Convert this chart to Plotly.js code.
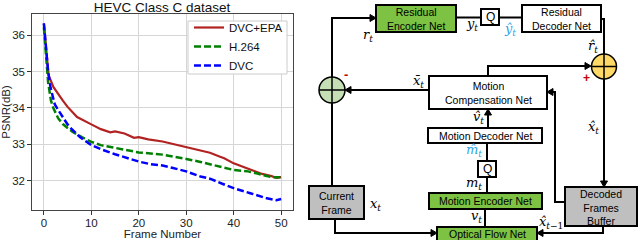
<!DOCTYPE html>
<html>
<head>
<meta charset="utf-8">
<script src="https://cdn.plot.ly/plotly-3.0.1.min.js"></script>
<style>html,body{margin:0;padding:0;background:#fff;}#chart{width:640px;height:240px;}</style>
</head>
<body>
<div id="chart"></div>
<script>
// ---- chart data ----
const seriesNames = ['DVC+EPA', 'H.264', 'DVC'];
const xTickVals = [0, 10, 20, 30, 40, 50];
const yTickVals = [32, 33, 34, 35, 36];

const framesEPA = [0, 0.5, 1, 2, 3, 4, 5, 7, 10, 12, 14, 15, 17, 19, 20, 22, 25, 27, 30, 33, 35, 37, 38, 40, 42, 44, 46, 48, 49, 50];
const psnrEPA   = [36.32, 35.5, 34.9, 34.58, 34.38, 34.2, 34.03, 33.75, 33.55, 33.42, 33.33, 33.36, 33.3, 33.18, 33.2, 33.14, 33.08, 33.02, 32.93, 32.83, 32.77, 32.67, 32.62, 32.48, 32.38, 32.28, 32.19, 32.13, 32.08, 32.1];

const framesH264 = [0, 0.4, 0.9, 1.5, 2, 3, 4, 5, 6, 8, 10, 12, 15, 17, 20, 25, 28, 30, 33, 35, 38, 40, 43, 45, 47, 48, 50];
const psnrH264   = [36.22, 35.6, 34.7, 34.2, 34.0, 33.72, 33.56, 33.45, 33.35, 33.2, 33.07, 32.98, 32.9, 32.84, 32.78, 32.72, 32.66, 32.6, 32.52, 32.45, 32.36, 32.3, 32.26, 32.2, 32.13, 32.1, 32.1];

const framesDVC = [0, 0.5, 0.9, 1.4, 2.3, 3, 3.7, 5, 5.5, 7.6, 10, 12, 15, 18, 20, 22.4, 25, 27, 30, 33, 35, 37.6, 40, 43.5, 47, 49, 50];
const psnrDVC   = [36.32, 35.6, 35.0, 34.56, 34.1, 33.95, 33.8, 33.55, 33.47, 33.2, 32.98, 32.87, 32.73, 32.6, 32.53, 32.46, 32.42, 32.36, 32.26, 32.12, 32.06, 31.92, 31.8, 31.66, 31.52, 31.47, 31.5];

const FONT = 'Liberation Sans, Arial, sans-serif';
const MATH = 'DejaVu Serif, serif';

const traces = [
  {x: framesEPA, y: psnrEPA, name: seriesNames[0], mode: 'lines', line: {color: '#b22222', width: 2.2}},
  {x: framesH264, y: psnrH264, name: seriesNames[1], mode: 'lines', line: {color: '#008000', width: 2.5, dash: '7px,3px'}},
  {x: framesDVC, y: psnrDVC, name: seriesNames[2], mode: 'lines', line: {color: '#0000ff', width: 2.5, dash: '7px,3px'}}
];

// ---- block diagram, laid out in page pixels and converted to paper coordinates ----
const W = 640, H = 240;
const px = x => x / W, py = y => 1 - y / H;
const S = [], A = [];
const P = p => p.map(q => px(q[0]).toFixed(5) + ',' + py(q[1]).toFixed(5)).join(' L');
function wire(pts) {
  S.push({type: 'path', xref: 'paper', yref: 'paper', path: 'M' + P(pts), line: {color: '#000', width: 2}, layer: 'above'});
}
function head(x, y, dir) {
  const L = 6, Wd = 3.5; let pts;
  if (dir === 'r') pts = [[x, y], [x - L, y - Wd], [x - L, y + Wd]];
  if (dir === 'l') pts = [[x, y], [x + L, y - Wd], [x + L, y + Wd]];
  if (dir === 'd') pts = [[x, y], [x - Wd, y - L], [x + Wd, y - L]];
  if (dir === 'u') pts = [[x, y], [x - Wd, y + L], [x + Wd, y + L]];
  S.push({type: 'path', xref: 'paper', yref: 'paper', path: 'M' + P(pts) + ' Z', fillcolor: '#000', line: {color: '#000', width: 1}, layer: 'above'});
}
function box(x0, y0, x1, y1, fill, lc) {
  S.push({type: 'rect', xref: 'paper', yref: 'paper', x0: px(x0), y0: py(y1), x1: px(x1), y1: py(y0), fillcolor: fill, line: {color: lc || '#000', width: lc ? 1 : 2}, layer: 'above'});
}
function circ(cx, cy, r, fill) {
  S.push({type: 'circle', xref: 'paper', yref: 'paper', x0: px(cx - r), y0: py(cy + r), x1: px(cx + r), y1: py(cy - r), fillcolor: fill, line: {color: '#000', width: 1.5}, layer: 'above'});
  S.push({type: 'path', xref: 'paper', yref: 'paper', path: 'M' + P([[cx - r, cy], [cx + r, cy]]) + ' M' + P([[cx, cy - r], [cx, cy + r]]), line: {color: '#000', width: 1.5}, layer: 'above'});
}
function txt(x, y, t, size, opts) {
  A.push(Object.assign({xref: 'paper', yref: 'paper', x: px(x), y: py(y), text: t, showarrow: false, xanchor: 'center', yanchor: 'middle',
    font: {family: FONT, size: size || 10.5, color: '#000'}}, opts || {}));
}
function math(x, y, t, color) {
  txt(x, y, t, 13, {font: {family: MATH, size: 13, color: color || '#000'}});
}

// legend frame (the legend entries themselves are Plotly's own legend)
box(188, 21, 287, 74, '#ffffff', '#cccccc');

// wires
wire([[332, 77], [332, 18], [370, 18]]);
wire([[456, 17.5], [481, 17.5]]);
wire([[499, 17.5], [522, 17.5]]);
wire([[601, 19], [604, 19], [604, 54]]);
wire([[488, 76], [488, 66], [585, 66]]);
wire([[604, 79], [604, 181]]);
wire([[429, 90], [351, 90]]);
wire([[332, 103], [332, 186]]);
wire([[335, 219], [335, 233], [431, 233]]);
wire([[603, 226], [603, 233], [543, 233]]);
wire([[565, 202], [555, 202], [555, 92], [553, 92]]);
wire([[488, 128], [488, 115]]);
wire([[487, 143], [487, 161]]);
wire([[487, 177], [487, 193]]);
wire([[485, 209], [485, 227]]);

// circles
circ(332, 90, 13, '#c5e0b4');
circ(604, 66.5, 12.5, '#ffd966');

// boxes
box(376, 5, 456, 32, '#7dc242');
box(481, 9, 499, 25, '#ffffff');
box(522, 5, 601, 32, '#ffffff');
box(429, 76, 547, 109, '#ffffff');
box(428, 128, 542, 143, '#ffffff');
box(478, 161, 496, 177, '#ffffff');
box(429, 193, 542, 209, '#7dc242');
box(437, 227, 537, 242, '#7dc242');
box(309, 186, 364, 219, '#bfbfbf');
box(565, 187, 637, 226, '#bfbfbf');

// arrow heads
head(376, 18, 'r');
head(591, 66, 'r');
head(604, 187, 'd');
head(345, 90, 'l');
head(437, 233, 'r');
head(537, 233, 'l');
head(547, 92, 'l');
head(488, 109, 'u');

// box texts
txt(416, 18.5, 'Residual<br>Encoder Net');
txt(490, 17, 'Q', 12);
txt(561.5, 18.5, 'Residual<br>Decoder Net');
txt(488, 92.5, 'Motion<br>Compensation Net');
txt(485, 135.5, 'Motion Decoder Net');
txt(487, 169, 'Q', 12);
txt(485.5, 201, 'Motion Encoder Net');
txt(487, 234, 'Optical Flow Net');
txt(336.5, 202.5, 'Current<br>Frame');
txt(601, 207, 'Decoded<br>Frames<br>Buffer');

// math labels
math(368, 35, '<i>r</i><sub><i>t</i></sub>');
math(472, 25, '<i>y</i><sub><i>t</i></sub>');
math(510, 29, '<i>ŷ</i><sub><i>t</i></sub>', '#2ea6e6');
math(593, 47, '<i>r̂</i><sub><i>t</i></sub>');
math(418, 81, '<i>x̄</i><sub><i>t</i></sub>');
math(478, 117, '<i>v̂</i><sub><i>t</i></sub>');
math(474, 150, '<i>m̂</i><sub><i>t</i></sub>', '#2ea6e6');
math(474, 183, '<i>m</i><sub><i>t</i></sub>');
math(476, 216, '<i>v</i><sub><i>t</i></sub>');
math(375, 204, '<i>x</i><sub><i>t</i></sub>');
math(593, 127, '<i>x̂</i><sub><i>t</i></sub>');
math(551, 222, '<i>x̂</i><sub><i>t</i>−1</sub>');
txt(586, 78, '<b>+</b>', 12, {font: {family: FONT, size: 12, color: '#c00000'}});
txt(346, 74.5, '<b>-</b>', 13, {font: {family: FONT, size: 13, color: '#c00000'}});

const axisCommon = {
  showgrid: true, gridcolor: '#d6d6d6', gridwidth: 1, zeroline: false,
  showline: true, mirror: true, linecolor: '#444', linewidth: 1.2,
  ticks: 'outside', ticklen: 3.5, tickcolor: '#333', tickfont: {size: 11.5, color: '#222'}
};

const layout = {
  width: 640, height: 240, margin: {l: 0, r: 0, t: 0, b: 0},
  paper_bgcolor: '#fff', plot_bgcolor: '#fff',
  font: {family: FONT, color: '#222'},
  title: {text: 'HEVC Class C dataset', x: 162 / 640, xanchor: 'center', xref: 'paper', y: 1 - 7 / 240, yanchor: 'middle', yref: 'container', font: {size: 13.5, color: '#111'}},
  xaxis: Object.assign({}, axisCommon, {domain: [32 / 640, 293 / 640], range: [-2.5, 52.5], tickvals: xTickVals, anchor: 'y',
    ticklabelstandoff: -2,
    title: {text: 'Frame Number', font: {size: 11.5, color: '#222'}, standoff: 0}}),
  yaxis: Object.assign({}, axisCommon, {domain: [30 / 240, 226 / 240], range: [31.2, 36.58], tickvals: yTickVals, anchor: 'x',
    title: {text: 'PSNR(dB)', font: {size: 11.5, color: '#222'}, standoff: 2}}),
  showlegend: true,
  legend: {x: 189 / 640, xanchor: 'left', y: 1 - 13 / 240, yanchor: 'top', bgcolor: 'rgba(0,0,0,0)', borderwidth: 0,
    font: {size: 11.5, color: '#111'}, itemwidth: 30, tracegroupgap: 0},
  shapes: S,
  annotations: A
};

Plotly.newPlot('chart', traces, layout, {displayModeBar: false, staticPlot: true});
</script>
</body>
</html>
